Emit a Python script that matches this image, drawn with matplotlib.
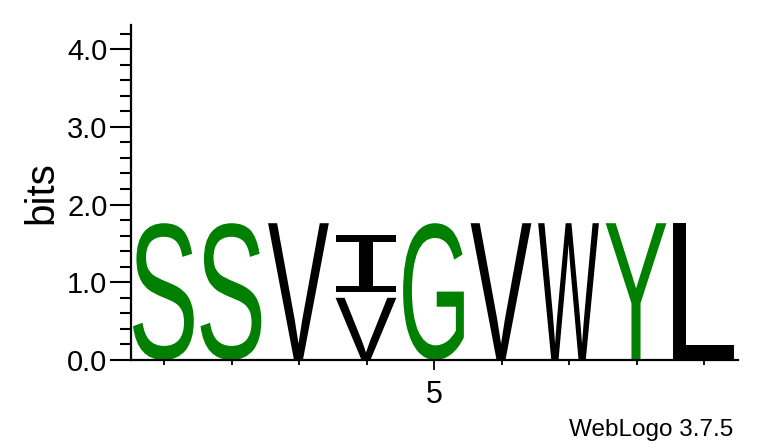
import matplotlib
matplotlib.use("Agg")
import matplotlib.pyplot as plt
from matplotlib.textpath import TextPath
from matplotlib.font_manager import FontProperties
from matplotlib.patches import PathPatch
from matplotlib.transforms import Affine2D
from matplotlib.ticker import FixedLocator, MultipleLocator

# ---- data (bits per letter, stacked bottom -> top) ----
positions = [1, 2, 3, 4, 5, 6, 7, 8, 9]
stack_letters = [["S"], ["S"], ["V"], ["V", "I"], ["G"], ["V"], ["W"], ["Y"], ["L"]]
stack_heights = [[1.76], [1.76], [1.76], [0.80, 0.81], [1.76], [1.76], [1.76], [1.76], [1.76]]
letter_colors = {"S": "#008000", "G": "#008000", "Y": "#008000",
                 "V": "black", "I": "black", "W": "black", "L": "black"}
y_ticks = [0, 1, 2, 3, 4]
y_tick_labels = ["0.0", "1.0", "2.0", "3.0", "4.0"]

plt.rcParams['font.family'] = ['Liberation Sans', 'DejaVu Sans']

fig = plt.figure(figsize=(7.6, 4.44), dpi=100)
W, H = 760, 444
ax = fig.add_axes([131 / W, 1 - 360 / H, (738 - 131) / W, (360 - 25) / H])
ax.set_xlim(0.51, 9.5)
ax.set_ylim(0, 4.31)

fp_main = FontProperties(family="Liberation Sans", weight="normal")
fp_i = FontProperties(family="Liberation Mono")


def draw_letter(ch, x0, y0, w, h, color):
    fp = fp_i if ch == "I" else fp_main
    tp = TextPath((0, 0), ch, size=1, prop=fp)
    bb = tp.get_extents()
    t = (Affine2D().translate(-bb.x0, -bb.y0)
         .scale(w / bb.width, h / bb.height).translate(x0, y0))
    ax.add_patch(PathPatch(t.transform_path(tp), facecolor=color,
                           edgecolor="none", lw=0))


letter_w = 0.90
gap = 0.07
for p, letters, heights in zip(positions, stack_letters, stack_heights):
    base = 0.0
    for i, (ch, h) in enumerate(zip(letters, heights)):
        pad = gap if i > 0 else 0.0
        draw_letter(ch, p - letter_w / 2 - 0.01, base + pad, letter_w, h - pad,
                    letter_colors[ch])
        base += h

# spines
for s in ["top", "right"]:
    ax.spines[s].set_visible(False)
ax.spines["left"].set_linewidth(1.6)
ax.spines["bottom"].set_linewidth(1.6)

# y axis ticks
ax.yaxis.set_major_locator(FixedLocator(y_ticks))
ax.set_yticklabels(y_tick_labels)
ax.yaxis.set_minor_locator(MultipleLocator(0.2))
ax.tick_params(axis="y", which="major", length=15, width=1.5, labelsize=21, pad=2)
ax.tick_params(axis="y", which="minor", length=8, width=1.5)

# x axis ticks: all positions minor, 5 labelled
ax.xaxis.set_major_locator(FixedLocator([5]))
ax.set_xticklabels(["5"])
ax.xaxis.set_minor_locator(FixedLocator([p for p in positions if p != 5]))
ax.tick_params(axis="x", which="major", length=7.5, width=1.3, labelsize=22, pad=7)
ax.tick_params(axis="x", which="minor", length=3.8, width=1.3)

ax.set_ylabel("bits", fontsize=29, labelpad=5)

fig.text(733 / W, 1 - 436 / H, "WebLogo 3.7.5", ha="right", va="baseline", fontsize=17.5)

fig.savefig("out.png", dpi=100)
